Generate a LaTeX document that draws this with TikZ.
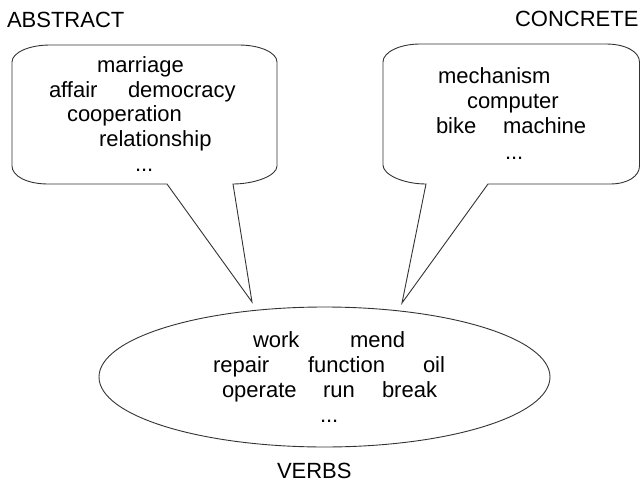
\documentclass[tikz,border=0pt]{standalone}
\usepackage{fontspec}
\setmainfont{Liberation Sans}
\usetikzlibrary{shapes.geometric}
\begin{document}
\begin{tikzpicture}[x=1pt,y=-1pt,
  word/.style={anchor=base west,inner sep=0pt,outer sep=0pt,text=black,font=\fontsize{22}{24}\selectfont},
  outline/.style={draw=black!80,line width=0.9pt,line join=miter}]
\useasboundingbox (0,0) rectangle (641,485);
% left callout (ABSTRACT)
\draw[outline] (50,45) -- (239,45) .. controls (260,45) and (277,52.6) .. (277,62)
  -- (277,166) .. controls (277,176) and (254,184) .. (233,184)
  -- (252,302) -- (167,184) -- (48,184)
  .. controls (27,184) and (12,176) .. (12,166)
  -- (12,62) .. controls (12,52.6) and (29,45) .. (50,45) -- cycle;
% right callout (CONCRETE)
\draw[outline] (420,44) -- (606,44) .. controls (626,44) and (639.5,52) .. (639.5,62)
  -- (639.5,166) .. controls (639.5,176) and (628,184) .. (610,184)
  -- (488,184) -- (402,303) -- (426,184)
  .. controls (404,184) and (383,175) .. (383,165)
  -- (383,62) .. controls (383,52) and (400,44) .. (420,44) -- cycle;
% verbs ellipse
\node[outline,ellipse,minimum width=451pt,minimum height=140pt,inner sep=0pt] (verbs) at (324.5,377) {};
% titles
\node[word] (abstract) at (7,27) {ABSTRACT};
\node[word] (concrete) at (515,26) {CONCRETE};
\node[word] (verbslabel) at (277,478) {VERBS};
% abstract words
\node[word] (marriage) at (97,72) {marriage};
\node[word] (affair) at (49,97) {affair};
\node[word] (democracy) at (128,97) {democracy};
\node[word] (cooperation) at (67,121) {cooperation};
\node[word] (relationship) at (99,146) {relationship};
\node[word] (adots) at (135,171) {...};
% concrete words
\node[word] (mechanism) at (438,83) {mechanism};
\node[word] (computer) at (467,108) {computer};
\node[word] (bike) at (436,133) {bike};
\node[word] (machine) at (503,133) {machine};
\node[word] (cdots) at (505,159) {...};
% verbs words
\node[word] (work) at (253,347) {work};
\node[word] (mend) at (350,347) {mend};
\node[word] (repair) at (213,372) {repair};
\node[word] (function) at (308,372) {function};
\node[word] (oil) at (423,372) {oil};
\node[word] (operate) at (222,397) {operate};
\node[word] (run) at (323,397) {run};
\node[word] (break) at (382,397) {break};
\node[word] (vdots) at (320,422) {...};
\end{tikzpicture}
\end{document}
